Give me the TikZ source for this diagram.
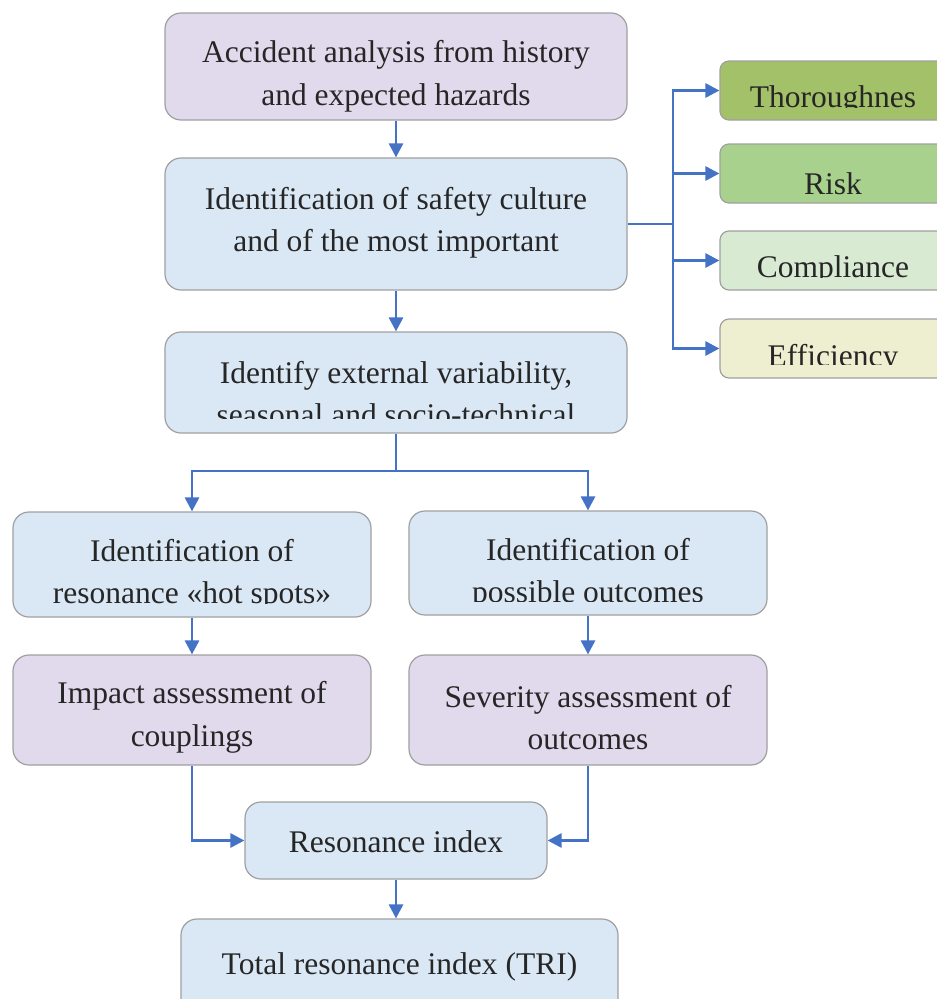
\documentclass[tikz,border=0pt]{standalone}
\usepackage{fontspec}
\setmainfont{Liberation Serif}
\usetikzlibrary{arrows.meta,positioning}

\definecolor{boxblue}{RGB}{218,232,245}
\definecolor{boxlilac}{RGB}{225,218,236}
\definecolor{boxolive}{RGB}{163,193,104}
\definecolor{boxgreen}{RGB}{169,209,142}
\definecolor{boxmint}{RGB}{217,234,211}
\definecolor{boxcream}{RGB}{237,239,208}
\definecolor{edgegray}{RGB}{160,160,160}
\definecolor{linkblue}{RGB}{68,114,196}
\definecolor{textgray}{RGB}{38,38,38}

\begin{document}
\begin{tikzpicture}[x=1pt, y=-1pt,
  box/.style={draw=edgegray, line width=1.2pt, rounded corners=16pt, inner sep=0pt},
  bluebox/.style={box, fill=boxblue},
  lilacbox/.style={box, fill=boxlilac},
  sidebox/.style={box, rounded corners=9pt, minimum width=240pt, minimum height=59pt},
  label/.style={text=textgray, font=\fontsize{31.5}{42.5}\selectfont, align=center, inner sep=0pt},
  line/.style={draw=linkblue, line width=2.9pt, -{Triangle[length=14pt,width=14pt]}}
]
  \useasboundingbox (0,0) rectangle (937,999);

  % Main column
  \node[lilacbox, minimum width=462pt, minimum height=107pt] (accident) at (396,66.5) {};
  \node[label] (accident-text) at (396,76.5) {Accident analysis from history\\and expected hazards};

  \node[bluebox, minimum width=462pt, minimum height=132pt] (culture) at (396,224) {};
  \node[label] (culture-text) at (396,223) {Identification of safety culture\\and of the most important};

  \node[bluebox, minimum width=462pt, minimum height=101pt] (extvar) at (396,382.5) {};
  \begin{scope}
    \clip (extvar.north west) rectangle ([yshift=15pt]extvar.south east);
    \node[label] (extvar-text) at (396,393.5) {Identify external variability,\\seasonal and socio-technical};
  \end{scope}

  % Two branches
  \node[bluebox, minimum width=358pt, minimum height=105pt] (hotspots) at (192,564.5) {};
  \begin{scope}
    \clip (hotspots.north west) rectangle ([yshift=14pt]hotspots.south east);
    \node[label] (hotspots-text) at (192,575) {Identification of\\resonance «hot spots»};
  \end{scope}

  \node[bluebox, minimum width=358pt, minimum height=104pt] (outcomes) at (588,563) {};
  \begin{scope}
    \clip (outcomes.north west) rectangle ([yshift=14pt]outcomes.south east);
    \node[label] (outcomes-text) at (588,574) {Identification of\\possible outcomes};
  \end{scope}

  \node[lilacbox, minimum width=358pt, minimum height=110pt] (impact) at (192,710) {};
  \node[label] (impact-text) at (192,717.5) {Impact assessment of\\couplings};

  \node[lilacbox, minimum width=358pt, minimum height=110pt] (severity) at (588,710) {};
  \node[label] (severity-text) at (588,717.5) {Severity assessment of\\outcomes};

  \node[bluebox, minimum width=302pt, minimum height=77pt] (resindex) at (396,840.5) {};
  \node[label] (resindex-text) at (396,841.5) {Resonance index};

  \node[bluebox, minimum width=437pt, minimum height=110pt] (tri) at (399.5,974) {};
  \node[label] (tri-text) at (399.5,966.5) {Total resonance index (TRI)};

  % Side boxes
  \node[sidebox, fill=boxolive] (thor) at (840,90.5) {};
  \node[sidebox, fill=boxgreen] (risk) at (840,173.5) {};
  \node[sidebox, fill=boxmint] (compl) at (840,260.5) {};
  \node[sidebox, fill=boxcream] (effic) at (840,348.5) {};
  \begin{scope}
    \clip (thor.north west) rectangle ([yshift=13pt]thor.south east);
    \node[label] (thor-text) at (833,100) {Thoroughnes};
  \end{scope}
  \node[label] (risk-text) at (833,183.5) {Risk};
  \begin{scope}
    \clip (compl.north west) rectangle ([yshift=13pt]compl.south east);
    \node[label] (compl-text) at (833,270) {Compliance};
  \end{scope}
  \begin{scope}
    \clip (effic.north west) rectangle ([yshift=14pt]effic.south east);
    \node[label] (effic-text) at (833,359) {Efficiency};
  \end{scope}

  % Arrows
  \draw[line] (accident) -- (culture);
  \draw[line] (culture) -- (extvar);

  \coordinate (fork) at (673,224);
  \draw[line, -] (culture.east) -- (fork);
  \foreach \b in {thor,risk,compl,effic}
    \draw[line] (fork) |- (\b.west);

  \coordinate (split) at (396,471);
  \draw[line, -] (extvar) -- (split);
  \draw[line] (split) -| (hotspots.north);
  \draw[line] (split) -| (outcomes.north);

  \draw[line] (hotspots) -- (impact);
  \draw[line] (outcomes) -- (severity);
  \draw[line] (impact.south) |- (resindex.west);
  \draw[line] (severity.south) |- (resindex.east);
  \draw[line] (resindex.south) -- (resindex.south |- tri.north);
\end{tikzpicture}
\end{document}
